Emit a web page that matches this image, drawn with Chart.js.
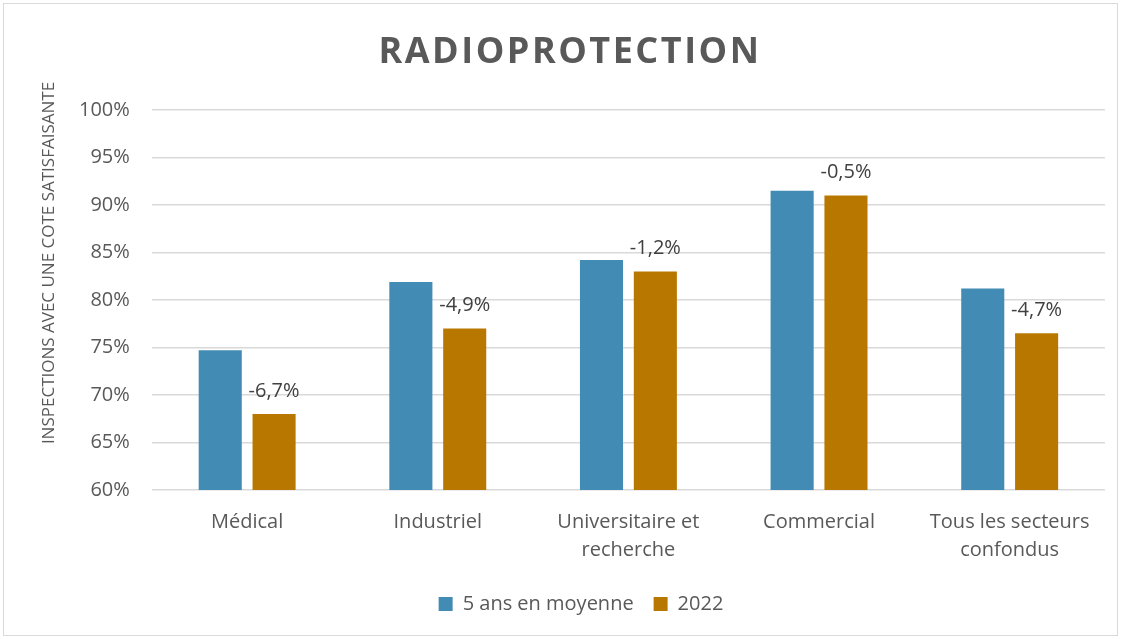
<!DOCTYPE html>
<html>
<head>
<meta charset="utf-8">
<script src="https://cdn.jsdelivr.net/npm/chart.js@4/dist/chart.umd.min.js"></script>
<style>
  html, body { margin: 0; padding: 0; background: #fff; }
  #cadre { position: absolute; left: 3px; top: 3px; width: 1113px; height: 631px; border: 1px solid #d9d9d9; }
  #zone { position: absolute; left: 0; top: 0; width: 1122px; height: 639px; }
</style>
</head>
<body>
<div id="cadre"></div>
<div id="zone"><canvas id="graphique"></canvas></div>
<script>
// donnees
const secteurs = ['Médical', 'Industriel', ['Universitaire et', 'recherche'], 'Commercial', ['Tous les secteurs', 'confondus']];
const moyenne5ans = [74.7, 81.9, 84.2, 91.5, 81.2];
const annee2022 = [68.0, 77.0, 83.0, 91.0, 76.5];
const ecarts = ['-6,7%', '-4,9%', '-1,2%', '-0,5%', '-4,7%'];
const graduations = [60, 65, 70, 75, 80, 85, 90, 95, 100];

const gris = '#595959';
const police = "'Open Sans', 'Noto Sans', sans-serif";

// titre du graphique et titre de l'axe vertical
const titresPlugin = {
  id: 'titres',
  afterDraw(chart) {
    const ctx = chart.ctx;
    ctx.save();
    ctx.font = 'bold 36px ' + police;
    ctx.fillStyle = gris;
    ctx.letterSpacing = '2.5px';
    ctx.textAlign = 'center';
    ctx.textBaseline = 'middle';
    ctx.fillText('RADIOPROTECTION', 570, 53);
    ctx.restore();

    ctx.save();
    ctx.font = '17px ' + police;
    ctx.fillStyle = gris;
    ctx.translate(49, 263);
    ctx.rotate(-Math.PI / 2);
    ctx.textAlign = 'center';
    ctx.textBaseline = 'middle';
    ctx.fillText('INSPECTIONS AVEC UNE COTE SATISFAISANTE', 0, 0);
    ctx.restore();
  }
};

// etiquettes des ecarts au-dessus des barres 2022
const ecartsPlugin = {
  id: 'ecarts',
  afterDatasetsDraw(chart) {
    const ctx = chart.ctx;
    const meta = chart.getDatasetMeta(1);
    ctx.save();
    ctx.font = '20px ' + police;
    ctx.fillStyle = '#404040';
    ctx.textAlign = 'center';
    ctx.textBaseline = 'bottom';
    meta.data.forEach((barre, i) => {
      ctx.fillText(ecarts[i], barre.x, barre.y - 13);
    });
    ctx.restore();
  }
};

new Chart(document.getElementById('graphique'), {
  type: 'bar',
  data: {
    labels: secteurs,
    datasets: [
      { label: '5 ans en moyenne', data: moyenne5ans, backgroundColor: '#428bb4' },
      { label: '2022', data: annee2022, backgroundColor: '#b87800' }
    ]
  },
  options: {
    responsive: true,
    maintainAspectRatio: false,
    animation: false,
    categoryPercentage: 0.565,
    barPercentage: 0.8,
    layout: { padding: { left: 57, right: 17, top: 110, bottom: 15 } },
    plugins: {
      legend: {
        position: 'bottom',
        labels: {
          color: gris,
          font: { family: police, size: 20 },
          boxWidth: 14,
          boxHeight: 14,
          padding: 20
        }
      },
      tooltip: { enabled: false }
    },
    scales: {
      x: {
        grid: { display: false },
        border: { display: false },
        ticks: { color: gris, font: { family: police, size: 20, lineHeight: 1.4 }, maxRotation: 0, padding: 10 }
      },
      y: {
        min: 60,
        max: 100,
        afterBuildTicks(axe) { axe.ticks = graduations.map(v => ({ value: v })); },
        grid: { color: '#d9d9d9', lineWidth: 1.5, drawTicks: false },
        border: { display: false },
        ticks: { color: gris, font: { family: police, size: 20 }, padding: 22, callback: v => v + '%' }
      }
    }
  },
  plugins: [titresPlugin, ecartsPlugin]
});
</script>
</body>
</html>
